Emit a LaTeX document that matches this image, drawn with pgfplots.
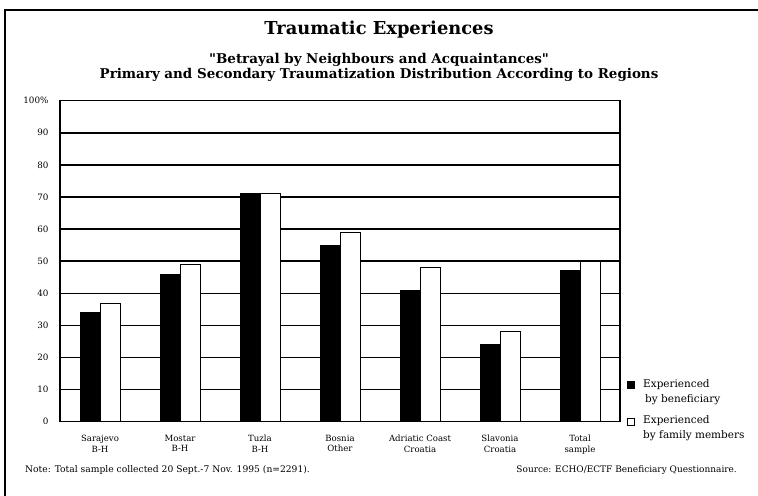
\documentclass[border=0pt]{standalone}
\usepackage{pgfplots}
\pgfplotsset{compat=1.18}
\usepackage{fontspec}
\setmainfont{DejaVu Serif}[Ligatures=TeXOff]
\begin{document}
\begin{tikzpicture}[x=1bp,y=1bp]
\useasboundingbox (0,0) rectangle (758,496);
% outer frame (left and top)
\draw[line width=2.4bp] (5,0) -- (5,486) -- (758,486);
% titles
\node[anchor=base, font=\fontsize{17.9}{21}\selectfont\bfseries] at (379,{496-35}) {Traumatic Experiences};
\node[anchor=base, font=\fontsize{13.5}{16}\selectfont\bfseries] at (379,{496-64}) {"Betrayal by Neighbours and Acquaintances"};
\node[anchor=base, font=\fontsize{13.5}{16}\selectfont\bfseries] at (379,{496-79}) {Primary and Secondary Traumatization Distribution According to Regions};
% notes
\node[anchor=base west, inner sep=0pt, font=\fontsize{9.2}{11}\selectfont] at (25,{496-473}) {Note: Total sample collected 20 Sept.-7 Nov. 1995 (n=2291).};
\node[anchor=base east, inner sep=0pt, font=\fontsize{9.0}{11}\selectfont] at (737,{496-473}) {Source: ECHO/ECTF Beneficiary Questionnaire.};
\begin{axis}[
  at={(60bp,74.3bp)}, anchor=south west,
  scale only axis, width=560bp, height=321bp,
  xmin=-0.5, xmax=6.5, ymin=0, ymax=100,
  ybar=0pt, bar width=0.25,
  xtick={0,1,2,3,4,5,6},
  xticklabels={{Sarajevo\\B-H},{Mostar\\B-H},{Tuzla\\B-H},{Bosnia\\Other},{Adriatic Coast\\Croatia},{Slavonia\\Croatia},{Total\\sample}},
  xticklabel style={align=center, font=\fontsize{8.6}{10.5}\selectfont, yshift=-10bp},
  ytick={0,10,20,30,40,50,60,70,80,90,100},
  yticklabels={0,10,20,30,40,50,60,70,80,90,{\fontsize{8.8}{9}\selectfont 100\%}},
  yticklabel style={font=\fontsize{8.8}{10}\selectfont, xshift=-8bp},
  ymajorgrids, grid style={black, line width=1.5bp},
  axis line style={black, line width=1.5bp},
  major tick length=0pt,
  legend style={at={(1.007,0.143)}, anchor=north west, draw=none, fill=none,
    font=\fontsize{10.5}{15}\selectfont, nodes={align=left, inner sep=1.5bp},
    row sep=9bp, /tikz/every odd column/.append style={column sep=7bp}},
  legend cell align=left,
]
\addplot[fill=black, draw=black, line width=0.8bp,
  legend image code/.code={\draw[fill=black,draw=black,line width=0.6bp] (0bp,3bp) rectangle (7bp,10bp);}]
  coordinates {(0,34) (1,46) (2,71) (3,55) (4,41) (5,24) (6,47)};
\addplot[fill=white, draw=black, line width=0.8bp,
  legend image code/.code={\draw[fill=white,draw=black,line width=0.6bp] (0bp,3bp) rectangle (7bp,10bp);}]
  coordinates {(0,37) (1,49) (2,71) (3,59) (4,48) (5,28) (6,50)};
\addlegendentry{Experienced\\\hspace*{2bp}by beneficiary}
\addlegendentry{Experienced\\by family members}
\end{axis}
\end{tikzpicture}
\end{document}
